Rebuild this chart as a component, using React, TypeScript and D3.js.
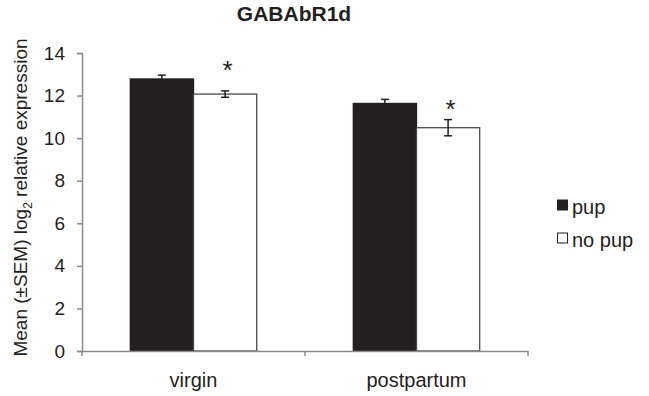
import { useEffect, useRef } from 'react';
import * as d3 from 'd3';

const groups = ['virgin', 'postpartum'];
const seriesNames = ['pup', 'no pup'];
const means = [
    [12.78, 12.07],
    [11.63, 10.49],
];
const sems = [
    [0.18, 0.15],
    [0.19, 0.38],
];
// asterisk level (data units) per group, marking the "no pup" bar
const sigLevel = [13.48, 11.67];
const yTicks = [0, 2, 4, 6, 8, 10, 12, 14];

const WIDTH = 649;
const HEIGHT = 396;
const FONT = 'Arial, "Liberation Sans", sans-serif';

export default function App() {
    const svgRef = useRef<SVGSVGElement>(null);

    useEffect(() => {
        if (!svgRef.current) return;
        const root = d3.select(svgRef.current);
        root.selectAll('*').remove();

        const margin = { top: 53, left: 82, right: 121, bottom: 45 };
        const innerWidth = WIDTH - margin.left - margin.right;
        const innerHeight = HEIGHT - margin.top - margin.bottom;

        const svg = root.append('g').attr('transform', `translate(${margin.left}, ${margin.top})`);

        const x = d3.scaleBand().domain(groups).range([0, innerWidth]).paddingInner(0).paddingOuter(0);
        const xInner = d3.scaleBand().domain(seriesNames)
            .range([0, x.bandwidth()]).paddingOuter(0.764).paddingInner(0);
        const y = d3.scaleLinear().domain([0, 14]).range([innerHeight, 0]);

        const fills = ['#231f20', '#ffffff'];
        const strokes = ['#231f20', '#4a4a4a'];
        const axisColor = '#8a8a8a';

        // Y axis
        const yAxis = svg.append('g')
            .call(d3.axisLeft(y).tickValues(yTicks).tickSize(5).tickPadding(12).tickFormat(d3.format('d')));
        yAxis.select('.domain').attr('stroke', axisColor).attr('stroke-width', 1.5);
        yAxis.selectAll('.tick line').attr('stroke', axisColor).attr('stroke-width', 1.5);
        yAxis.selectAll('.tick text')
            .attr('fill', '#231f20').style('font-size', '19px').style('font-family', FONT);

        // Bars
        groups.forEach((g, gi) => {
            const gx = x(g) ?? 0;
            seriesNames.forEach((s, si) => {
                const bx = gx + (xInner(s) ?? 0);
                const bw = xInner.bandwidth();
                svg.append('rect')
                    .attr('x', bx)
                    .attr('y', y(means[gi][si]))
                    .attr('width', bw)
                    .attr('height', innerHeight - y(means[gi][si]))
                    .attr('fill', fills[si])
                    .attr('stroke', strokes[si])
                    .attr('stroke-width', 1.3);

                const cx = bx + bw / 2;
                const hi = y(means[gi][si] + sems[gi][si]);
                const lo = y(means[gi][si] - sems[gi][si]);
                const err = svg.append('g').attr('stroke', '#231f20').attr('stroke-width', 1.5);
                err.append('line').attr('x1', cx).attr('x2', cx).attr('y1', hi).attr('y2', lo);
                err.append('line').attr('x1', cx - 4).attr('x2', cx + 4).attr('y1', hi).attr('y2', hi);
                err.append('line').attr('x1', cx - 4).attr('x2', cx + 4).attr('y1', lo).attr('y2', lo);

                if (si === 1) {
                    svg.append('text')
                        .attr('x', cx + 2.5)
                        .attr('y', y(sigLevel[gi]) + 15)
                        .attr('text-anchor', 'middle')
                        .attr('fill', '#231f20')
                        .style('font-size', '26px')
                        .style('font-family', FONT)
                        .text('*');
                }
            });
        });

        // X axis
        const xAxis = svg.append('g')
            .attr('transform', `translate(0, ${innerHeight})`)
            .call(d3.axisBottom(x).tickSize(0).tickPadding(22));
        xAxis.select('.domain').attr('stroke', axisColor).attr('stroke-width', 1.5);
        xAxis.selectAll('.tick text')
            .attr('fill', '#231f20').style('font-size', '20px').style('font-family', FONT);
        // boundary tick marks between categories
        [0, ...groups.map(g => (x(g) ?? 0) + x.bandwidth())].forEach(px => {
            xAxis.append('line')
                .attr('x1', px).attr('x2', px).attr('y1', 0).attr('y2', 5)
                .attr('stroke', axisColor).attr('stroke-width', 1.5);
        });

        // Title
        root.append('text')
            .attr('x', 294)
            .attr('y', 21)
            .attr('text-anchor', 'middle')
            .attr('fill', '#231f20')
            .style('font-size', '21px')
            .style('font-weight', 'bold')
            .style('font-family', FONT)
            .text('GABAbR1d');

        // Y label
        const yl = root.append('text')
            .attr('transform', `translate(27, 197.5) rotate(-90)`)
            .attr('text-anchor', 'middle')
            .attr('fill', '#231f20')
            .style('font-size', '19px')
            .style('font-family', FONT);
        yl.append('tspan').text('Mean (±SEM) log');
        yl.append('tspan').attr('dy', 5).style('font-size', '12px').text('2');
        yl.append('tspan').attr('dy', -5).text(' relative expression');

        // Legend
        const legend = root.append('g').attr('transform', 'translate(557, 214)');
        seriesNames.forEach((s, i) => {
            const row = legend.append('g').attr('transform', `translate(0, ${i * 33})`);
            row.append('rect')
                .attr('x', 0.5).attr('y', -14).attr('width', 10).attr('height', 10)
                .attr('fill', fills[i]).attr('stroke', '#231f20').attr('stroke-width', 1);
            row.append('text')
                .attr('x', 15).attr('y', 0)
                .attr('fill', '#231f20')
                .style('font-size', '20px')
                .style('font-family', FONT)
                .text(s);
        });
    }, []);

    return (
        <svg ref={svgRef} width={WIDTH} height={HEIGHT}
            style={{ position: 'absolute', left: 0, top: 0, background: '#fff' }} />
    );
}
